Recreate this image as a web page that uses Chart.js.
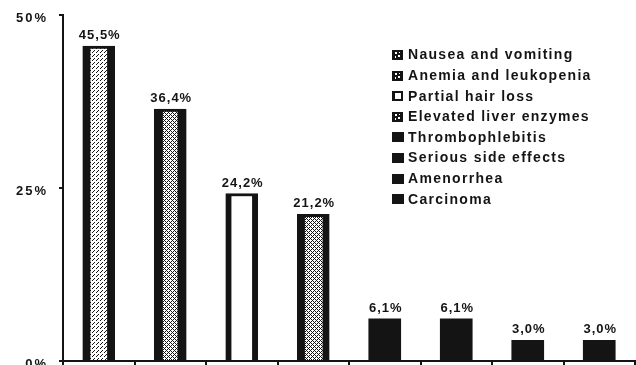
<!DOCTYPE html>
<html>
<head>
<meta charset="utf-8">
<script src="https://cdn.jsdelivr.net/npm/chart.js@4/dist/chart.umd.min.js"></script>
<style>
  html, body { margin: 0; padding: 0; background: #fff; }
  #wrap { width: 636px; height: 365px; }
</style>
</head>
<body>
<div id="wrap"><canvas id="c" width="636" height="365"></canvas></div>
<script>
// Side effects, share of patients (%)
const categories = [
  'Nausea and vomiting',
  'Anemia and leukopenia',
  'Partial hair loss',
  'Elevated liver enzymes',
  'Thrombophlebitis',
  'Serious side effects',
  'Amenorrhea',
  'Carcinoma'
];
const values = [45.5, 36.4, 24.2, 21.2, 6.1, 6.1, 3.0, 3.0];
const yTicks = [0, 25, 50];

const INK = '#141414';

// Small bitmap tiles used as stipple fills
function makePattern(rows) {
  const h = rows.length, w = rows[0].length;
  const cv = document.createElement('canvas');
  cv.width = w; cv.height = h;
  const g = cv.getContext('2d');
  g.fillStyle = '#fff';
  g.fillRect(0, 0, w, h);
  g.fillStyle = INK;
  rows.forEach((r, y) => {
    for (let x = 0; x < w; x++) if (r[x] === '#') g.fillRect(x, y, 1, 1);
  });
  return g.createPattern(cv, 'repeat');
}

const dots = makePattern([
  '#...',
  '....',
  '..#.',
  '.#..'
]);
const cross = makePattern([
  '#...',
  '.#.#',
  '..#.',
  '.#.#'
]);

const fills = [dots, cross, '#ffffff', cross, INK, INK, INK, INK];
const borders = [
  { left: 8, right: 8, top: 3, bottom: 0 },
  { left: 9, right: 9, top: 3, bottom: 0 },
  { left: 6, right: 6, top: 3, bottom: 0 },
  { left: 8, right: 7, top: 3, bottom: 0 },
  0, 0, 0, 0
];
// legend swatch kind: 'pat' (dark box with stipple), 'open' (white box), 'solid'
const swatches = ['pat', 'pat', 'open', 'pat', 'solid', 'solid', 'solid', 'solid'];

// Percent values printed above each bar, with decimal comma
const valueLabels = {
  id: 'valueLabels',
  afterDatasetsDraw(chart) {
    const ctx = chart.ctx;
    const meta = chart.getDatasetMeta(0);
    ctx.save();
    ctx.letterSpacing = '1px';
    ctx.font = 'bold 13px "Liberation Sans", Arial, sans-serif';
    ctx.fillStyle = INK;
    ctx.textAlign = 'center';
    ctx.textBaseline = 'bottom';
    meta.data.forEach((bar, i) => {
      const txt = values[i].toFixed(1).replace('.', ',') + '%';
      ctx.fillText(txt, bar.x + 1, bar.y - 4);
    });
    ctx.restore();
  }
};

// Legend list drawn inside the plot, upper right
const sideLegend = {
  id: 'sideLegend',
  afterDraw(chart) {
    const ctx = chart.ctx;
    const x0 = 392, y0 = 55, step = 20.6;
    ctx.save();
    ctx.letterSpacing = '1.3px';
    ctx.font = 'bold 14px "Liberation Sans", Arial, sans-serif';
    ctx.textBaseline = 'middle';
    ctx.textAlign = 'left';
    categories.forEach((name, i) => {
      const cy = y0 + i * step;
      const bx = x0, by = Math.round(cy - 5);
      if (swatches[i] === 'solid') {
        ctx.fillStyle = INK;
        ctx.fillRect(bx, by, 12, 10);
      } else if (swatches[i] === 'open') {
        ctx.fillStyle = INK;
        ctx.fillRect(bx, by, 11, 10);
        ctx.fillStyle = '#fff';
        ctx.fillRect(bx + 3, by + 2, 6, 6);
      } else {
        ctx.fillStyle = INK;
        ctx.fillRect(bx, by, 11, 10);
        ctx.fillStyle = '#fff';
        ctx.fillRect(bx + 3, by + 2, 2, 2);
        ctx.fillRect(bx + 6, by + 5, 2, 2);
        ctx.fillRect(bx + 3, by + 6, 1, 2);
        ctx.fillRect(bx + 7, by + 2, 1, 1);
      }
      ctx.fillStyle = INK;
      ctx.fillText(name, 408, cy + 0.5);
    });
    ctx.restore();
  }
};

// Letter-spaced axis text
const spacing = {
  id: 'spacing',
  beforeDraw(chart) { chart.ctx.letterSpacing = '2px'; }
};

new Chart(document.getElementById('c'), {
  type: 'bar',
  data: {
    labels: categories,
    datasets: [{
      data: values,
      backgroundColor: fills,
      borderColor: INK,
      borderWidth: (c) => borders[c.dataIndex],
      borderSkipped: 'start',
      barThickness: 32
    }]
  },
  options: {
    responsive: false,
    animation: false,
    layout: { padding: { top: 15, left: 0, right: 1, bottom: 0 } },
    plugins: { legend: { display: false }, tooltip: { enabled: false } },
    scales: {
      x: {
        offset: true,
        ticks: { display: false },
        grid: { display: true, drawOnChartArea: false, tickLength: 4, color: INK, lineWidth: 2, offset: true },
        border: { display: true, color: INK, width: 2 },
        afterFit(s) {
          s.height = 4;
          s.paddingLeft = 0; s.paddingRight = 0; s.paddingTop = 0; s.paddingBottom = 0;
        }
      },
      y: {
        min: 0,
        max: 50,
        afterBuildTicks(s) { s.ticks = yTicks.map(v => ({ value: v })); },
        ticks: {
          callback: (v) => v + '%',
          color: INK,
          padding: 11,
          labelOffset: 3,
          font: { family: '"Liberation Sans", Arial, sans-serif', weight: 'bold', size: 13 }
        },
        grid: { drawOnChartArea: false, tickLength: 4, color: INK, lineWidth: 2 },
        border: { color: INK, width: 2 },
        afterFit(s) {
          s.width = 63;
          s.paddingTop = 0; s.paddingBottom = 0; s.paddingLeft = 0; s.paddingRight = 0;
        }
      }
    }
  },
  plugins: [spacing, valueLabels, sideLegend]
});
</script>
</body>
</html>
